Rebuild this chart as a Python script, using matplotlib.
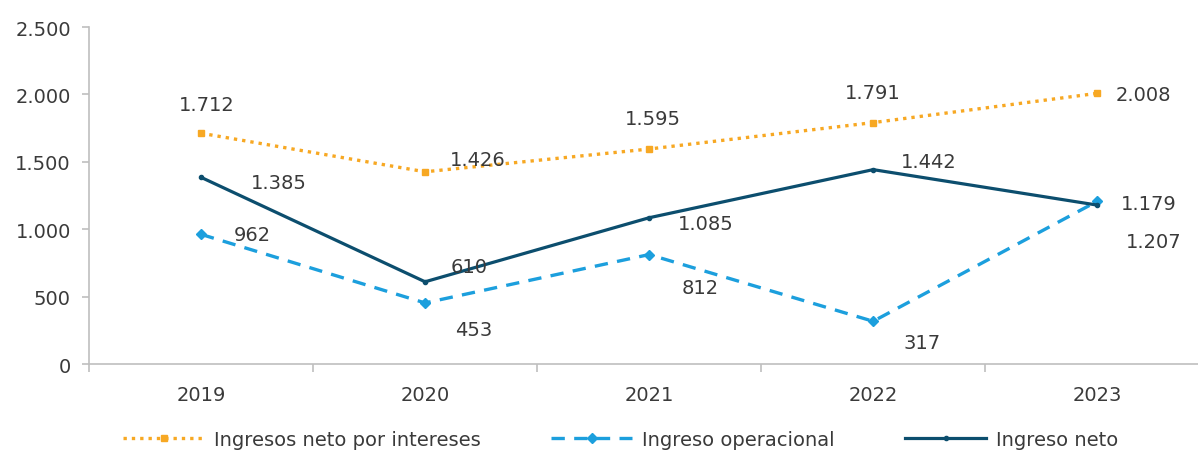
import numpy as np
import matplotlib.pyplot as plt
from matplotlib.ticker import FuncFormatter

plt.rcParams['font.family'] = ['DejaVu Sans']

years = ["2019", "2020", "2021", "2022", "2023"]
intereses = [1712, 1426, 1595, 1791, 2008]
operacional = [962, 453, 812, 317, 1207]
neto = [1385, 610, 1085, 1442, 1179]

# label offsets in points (dx, dy)
off_intereses = [(4, 21), (38, 9), (3, 22), (0, 22), (33, -1)]
off_operacional = [(37, 0), (35, -19), (37, -24), (35, -15), (41, -29)]
off_neto = [(56, -4), (32, 11), (41, -4), (40, 6), (37, 1)]

ORANGE = "#F7A823"
BLUE = "#1C9FDD"
NAVY = "#0C4E6E"
GREY = "#BFBFBF"
TXT = "#3A3A3A"


def fmt(v):
    return f"{v:,.0f}".replace(",", ".")


fig = plt.figure(figsize=(11.98, 4.60), dpi=100)
ax = fig.add_axes([0.0743, 0.2065, 0.9257, 0.7326])
x = np.arange(len(years))

l1, = ax.plot(x, intereses, color=ORANGE, lw=2.4, ls=(0, (1, 1.5)),
              marker="s", ms=4, label="Ingresos neto por intereses")
l2, = ax.plot(x, operacional, color=BLUE, lw=2.4, ls=(0, (4, 2.8)),
              marker="D", ms=5, label="Ingreso operacional")
l3, = ax.plot(x, neto, color=NAVY, lw=2.3, marker="o", ms=3,
              label="Ingreso neto")

for vals, offs in [(intereses, off_intereses), (operacional, off_operacional), (neto, off_neto)]:
    for xi, v, (dx, dy) in zip(x, vals, offs):
        ax.annotate(fmt(v), (xi, v), xytext=(dx, dy), textcoords="offset points",
                    ha="center", va="center", fontsize=14, color=TXT)

ax.set_ylim(0, 2500)
ax.set_yticks([0, 500, 1000, 1500, 2000, 2500])
ax.yaxis.set_major_formatter(FuncFormatter(lambda v, p: fmt(v)))
ax.set_xlim(-0.5, 4.45)
ax.set_xticks(x)
ax.set_xticklabels(years)
ax.set_xticks(np.arange(-0.5, 4, 1), minor=True)
ax.tick_params(axis="x", which="major", length=0, pad=15, labelsize=14, labelcolor=TXT)
ax.tick_params(axis="x", which="minor", length=6, color=GREY, width=1.2)
ax.tick_params(axis="y", length=5, color=GREY, width=1.2, labelsize=14, labelcolor=TXT, pad=8)

for s in ["top", "right"]:
    ax.spines[s].set_visible(False)
for s in ["left", "bottom"]:
    ax.spines[s].set_color(GREY)
    ax.spines[s].set_linewidth(1.2)

fig.legend(handles=[l1, l2, l3], loc="center", bbox_to_anchor=(0.518, 0.043),
           ncol=3, frameon=False, fontsize=14, handlelength=4.2,
           columnspacing=3.6, handletextpad=0.5, labelcolor=TXT)

fig.savefig("out.png", dpi=100)
